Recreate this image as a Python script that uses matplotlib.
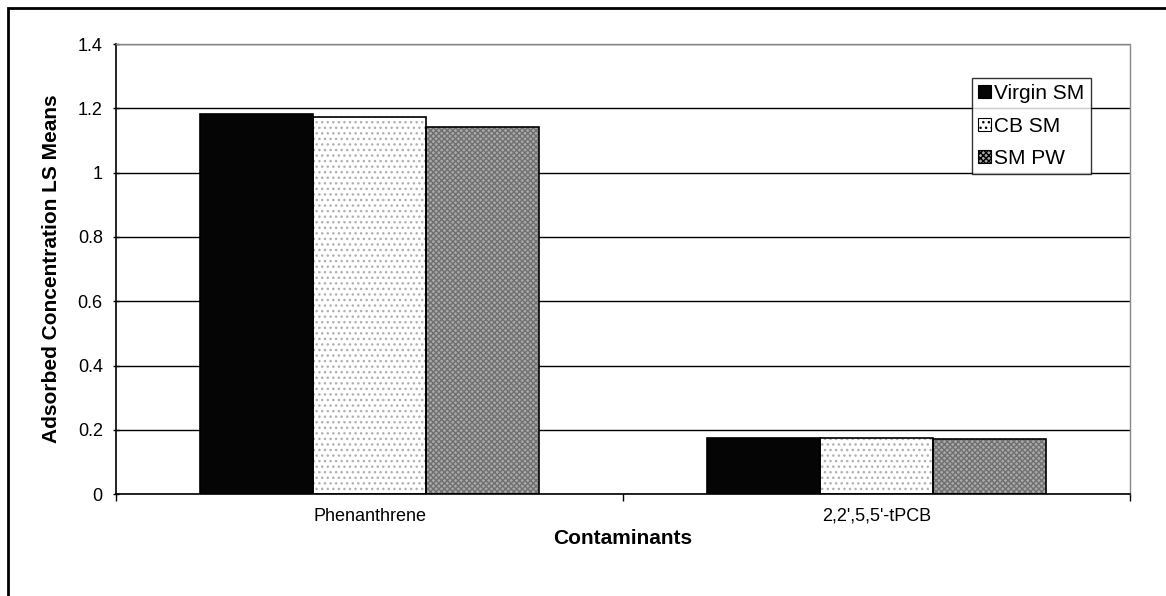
import numpy as np
import matplotlib.pyplot as plt
from matplotlib.patches import Rectangle

plt.rcParams['font.family'] = ['Liberation Sans', 'DejaVu Sans']

contaminants = ["Phenanthrene", "2,2',5,5'-tPCB"]
series = ["Virgin SM", "CB SM", "SM PW"]
virgin_sm = [1.182, 0.176]
cb_sm = [1.174, 0.176]
sm_pw = [1.143, 0.172]

values = [virgin_sm, cb_sm, sm_pw]
faces = ["#050505", "#ffffff", "#a9a9a9"]
hatches = ["", "...", "xxxxxx"]
hatch_cols = ["#050505", "#b0b0b0", "#707070"]

fig = plt.figure(figsize=(11.66, 5.96), dpi=100)
ax = fig.add_axes([0.0995, 0.171, 0.8697, 0.755])

# outer chart border
fig.patches.append(Rectangle((8 / 1166, -0.2), 1.2, 1.2 - 8 / 596,
                             transform=fig.transFigure, fill=False,
                             edgecolor="black", linewidth=2, zorder=0))

x = np.arange(len(contaminants))
width = 0.223
for i, (vals, fc, h, hc) in enumerate(zip(values, faces, hatches, hatch_cols)):
    pos = x + (i - 1) * width
    ax.bar(pos, vals, width, color=fc, edgecolor=hc, hatch=h, linewidth=0, zorder=2)
    ax.bar(pos, vals, width, fill=False, edgecolor="black", linewidth=1.2, zorder=3)

ax.set_xlim(-0.5, 1.5)
ax.set_ylim(0, 1.4)
ax.set_yticks(np.arange(0, 1.41, 0.2))
ax.set_yticklabels(["0", "0.2", "0.4", "0.6", "0.8", "1", "1.2", "1.4"], fontsize=13)
ax.set_xticks(x)
ax.set_xticklabels(contaminants, fontsize=13)
ax.set_xticks([-0.5, 0.5, 1.5], minor=True)
ax.tick_params(axis="x", which="major", length=0, pad=10)
ax.tick_params(axis="x", which="minor", length=5, direction="out", width=1)
ax.tick_params(axis="y", length=5, direction="inout", width=1, pad=7)

ax.grid(axis="y", color="black", linewidth=1, zorder=1)
ax.set_axisbelow(True)
for s in ["top", "right"]:
    ax.spines[s].set_color("#888888")
    ax.spines[s].set_linestyle((0, (1, 1)))
    ax.spines[s].set_linewidth(1)
for s in ["left", "bottom"]:
    ax.spines[s].set_linewidth(1.2)

ax.set_ylabel("Adsorbed Concentration LS Means", fontsize=15, fontweight="bold", labelpad=12)
ax.set_xlabel("Contaminants", fontsize=15, fontweight="bold", labelpad=3)

handles = [Rectangle((0, 0), 1, 1, facecolor=fc, edgecolor="black", hatch=h, linewidth=0.8)
           for fc, h in zip(faces, hatches)]
leg = ax.legend(handles, series, loc="upper right", bbox_to_anchor=(0.961, 0.925),
                fontsize=15, frameon=True, fancybox=False, edgecolor="black",
                handlelength=0.6, handleheight=0.6, handletextpad=0.15,
                labelspacing=0.65, borderpad=0.3, borderaxespad=0)
leg.get_frame().set_linewidth(1)
leg.set_zorder(5)

fig.savefig("out.png", dpi=100, facecolor="white")
